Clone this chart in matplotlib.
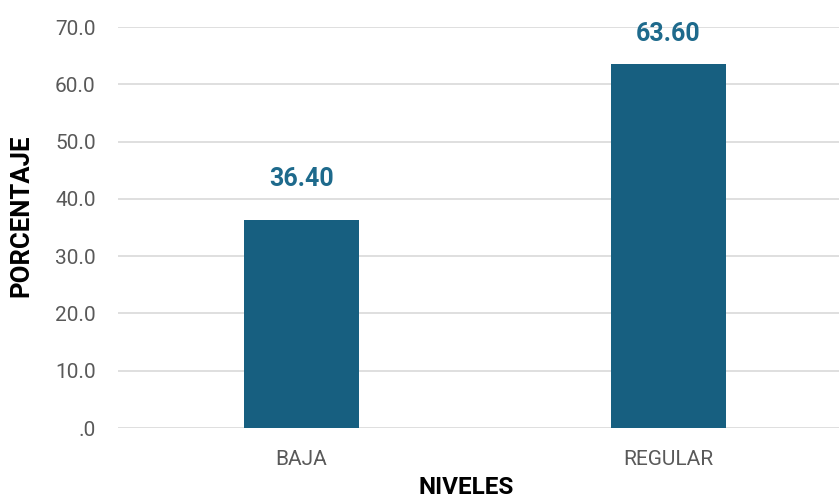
import matplotlib.pyplot as plt
from matplotlib.ticker import FuncFormatter

# Datos
niveles = ["BAJA", "REGULAR"]
porcentajes = [36.40, 63.60]
y_ticks = [0, 10, 20, 30, 40, 50, 60, 70]

BAR_COLOR = "#175F80"
LABEL_COLOR = "#1E6A8C"

plt.rcParams['font.family'] = ['Roboto', 'DejaVu Sans']

fig = plt.figure(figsize=(8.39, 5.01), dpi=100)
ax = fig.add_axes([0.1406, 0.1457, 0.8594, 0.8003])

x = range(len(niveles))
bars = ax.bar(x, porcentajes, width=0.313, color=BAR_COLOR, zorder=3)

# etiqueta alta se acerca a la barra para no salirse del area
offsets = [29.5, 21.5]
for xi, val, off in zip(x, porcentajes, offsets):
    ax.annotate(f"{val:.2f}", (xi, val), xytext=(0, off), textcoords="offset points",
                ha="center", va="center", fontsize=18, fontweight="bold",
                color=LABEL_COLOR, zorder=4)

ax.set_xlim(-0.5, 1.465)
ax.set_ylim(0, 70)
ax.set_yticks(y_ticks)
ax.yaxis.set_major_formatter(FuncFormatter(
    lambda v, p: ".0" if v == 0 else f"{v:.1f}"))
ax.set_xticks(list(x))
ax.set_xticklabels(niveles)

ax.grid(axis="y", color="#D9D9D9", linewidth=1.2, zorder=0)
for s in ax.spines.values():
    s.set_visible(False)
ax.tick_params(axis="y", length=0, pad=16, labelsize=15, labelcolor="#595959")
ax.tick_params(axis="x", length=0, pad=16, labelsize=15, labelcolor="#595959")

ax.set_ylabel("PORCENTAJE", fontsize=18.5, fontweight="bold", color="black")
ax.yaxis.set_label_coords(-0.118, 0.529)
ax.set_xlabel("NIVELES", fontsize=17.5, fontweight="bold", color="black")
ax.xaxis.set_label_coords(0.483, -0.12)

fig.savefig("out.png", dpi=100)
